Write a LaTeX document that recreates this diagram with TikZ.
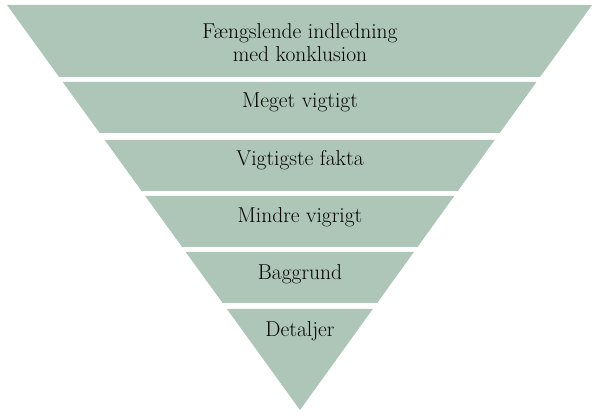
\documentclass[tikz,border=0pt]{standalone}
\usepackage{xcolor}
\usepackage{tikz}
\usetikzlibrary{calc, positioning}
\definecolor{sage}{RGB}{173,198,184}
\tikzstyle{layer} = [fill=sage]
\tikzstyle{layertext} = [anchor=base, align=center, inner sep=0pt, text=black, font=\fontsize{21.5}{23}\selectfont]

\begin{document}
\begin{tikzpicture}[x=1pt, y=-1pt]
		\useasboundingbox (0,0) rectangle (600,419);
		\coordinate (TopLeft) at (7,5);
		\coordinate (TopRight) at (592,5);
		\coordinate (Apex) at (300,410);
		% bands of the funnel
		\foreach \ytop/\ybot in {5/77, 82/133, 140/191, 196/247, 252/303}
			\fill [layer] ($(TopLeft)!{(\ytop-5)/405}!(Apex)$) -- ($(TopRight)!{(\ytop-5)/405}!(Apex)$) -- ($(TopRight)!{(\ybot-5)/405}!(Apex)$) -- ($(TopLeft)!{(\ybot-5)/405}!(Apex)$) -- cycle;
		\fill [layer] ($(TopLeft)!{(309-5)/405}!(Apex)$) -- ($(TopRight)!{(309-5)/405}!(Apex)$) -- (Apex) -- cycle;
		% labels
		\node (Intro)[layertext] at (300,62) {Fængslende indledning\\med konklusion};
		\node (VeryImportant)[layertext] at (300,108) {Meget vigtigt};
		\node (KeyFacts)[layertext] at (300,166) {Vigtigste fakta};
		\node (LessImportant)[layertext] at (300,223) {Mindre vigrigt};
		\node (Background)[layertext] at (300,280) {Baggrund};
		\node (Details)[layertext] at (300,337) {Detaljer};
	\end{tikzpicture}
\end{document}
